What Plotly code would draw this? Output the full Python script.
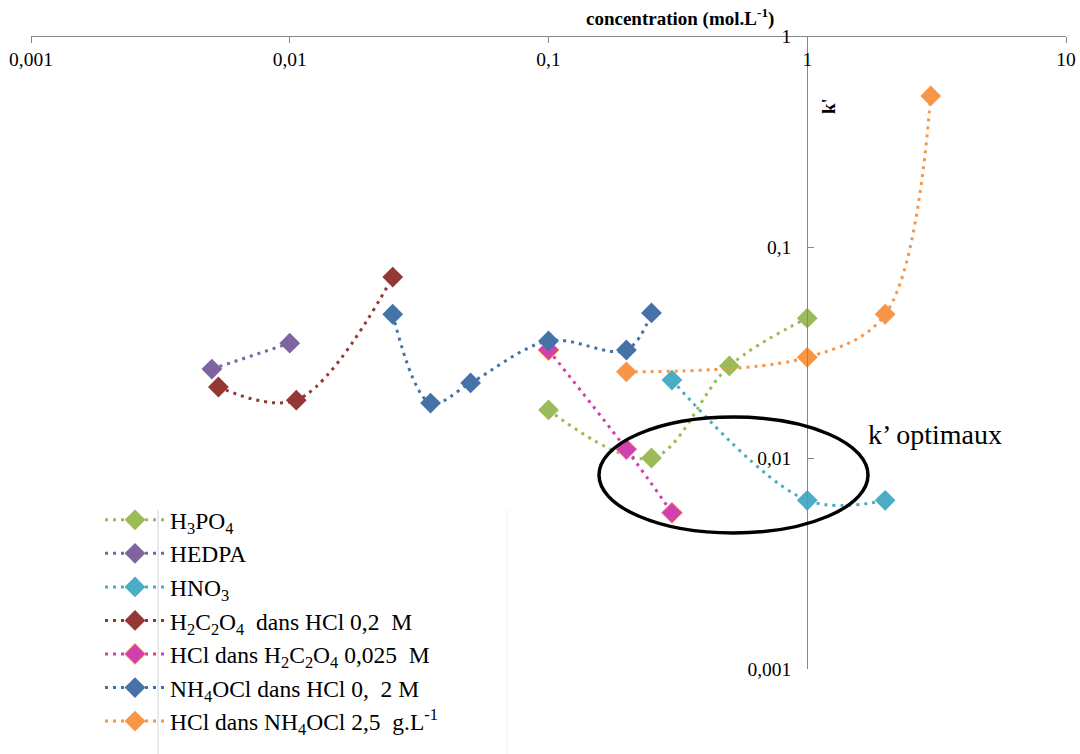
import plotly.graph_objects as go

# ---------------- data ----------------
series_names = [
    "H<sub>3</sub>PO<sub>4</sub>",
    "HEDPA",
    "HNO<sub>3</sub>",
    "H<sub>2</sub>C<sub>2</sub>O<sub>4</sub>  dans HCl 0,2  M",
    "HCl dans H<sub>2</sub>C<sub>2</sub>O<sub>4</sub> 0,025  M",
    "NH<sub>4</sub>OCl dans HCl 0,  2 M",
    "HCl dans NH<sub>4</sub>OCl 2,5  g.L<sup>-1</sup>",
]
colors = ["#9BBB59", "#8064A2", "#4BACC6", "#953735", "#D23FAE", "#4572A7", "#F79646"]

h3po4_x = [0.1, 0.25, 0.5, 1.0]
h3po4_y = [0.0169, 0.0100, 0.0273, 0.046]

hedpa_x = [0.005, 0.01]
hedpa_y = [0.0264, 0.035]

hno3_x = [0.3, 1.0, 2.0]
hno3_y = [0.0234, 0.0063, 0.0063]

h2c2o4_x = [0.0053, 0.0106, 0.025]
h2c2o4_y = [0.0217, 0.0188, 0.072]

hcl_ox_x = [0.1, 0.2, 0.3]
hcl_ox_y = [0.0325, 0.011, 0.0055]

nh4ocl_x = [0.025, 0.035, 0.05, 0.1, 0.2, 0.25]
nh4ocl_y = [0.048, 0.0182, 0.0227, 0.0359, 0.0325, 0.0487]

hcl_nh_x = [0.2, 1.0, 2.0, 3.0]
hcl_nh_y = [0.0256, 0.030, 0.048, 0.52]

x_tickvals = [0.001, 0.01, 0.1, 1, 10]
x_ticktext = ["0,001", "0,01", "0,1", "1", "10"]
y_tickvals = [0.001, 0.01, 0.1, 1]
y_ticktext = ["0,001", "0,01", "0,1", "1"]

xs = [h3po4_x, hedpa_x, hno3_x, h2c2o4_x, hcl_ox_x, nh4ocl_x, hcl_nh_x]
ys = [h3po4_y, hedpa_y, hno3_y, h2c2o4_y, hcl_ox_y, nh4ocl_y, hcl_nh_y]

# ---------------- layout geometry ----------------
W, H = 1080, 754
ML, MR, MT, MB = 31, 14, 36, 85
PW, PH = W - ML - MR, H - MT - MB
x_range = [-3, 1]
y_range = [-3, 0]


def px(x):
    return (x - ML) / PW


def py(y):
    return (H - MB - y) / PH


SERIF = "Liberation Serif"

fig = go.Figure()
for i, (name, c, xv, yv) in enumerate(zip(series_names, colors, xs, ys)):
    mline = dict(width=1, color="#F79646") if i == 4 else dict(width=0)
    fig.add_trace(go.Scatter(
        x=xv, y=yv, name=name, mode="lines+markers",
        line=dict(color=c, width=3, dash="3px,5px", shape="spline", smoothing=1.0),
        marker=dict(symbol="diamond", size=16, color=c, line=mline),
        legendgroup=f"g{i}",
    ))

yaxis_pos = (0 - x_range[0]) / (x_range[1] - x_range[0])

fig.update_layout(
    width=W, height=H,
    margin=dict(l=ML, r=MR, t=MT, b=MB, autoexpand=False),
    paper_bgcolor="white", plot_bgcolor="white",
    font=dict(family=SERIF, size=19, color="#000000"),
    showlegend=True,
    legend=dict(
        x=px(100), y=py(498), xanchor="left", yanchor="top",
        bgcolor="rgba(0,0,0,0)", font=dict(family=SERIF, size=23.5, color="#000"),
        tracegroupgap=0, itemwidth=60,
    ),
    xaxis=dict(
        type="log", range=x_range, side="bottom", anchor="free", position=1,
        tickvals=x_tickvals, ticktext=x_ticktext,
        ticks="outside", ticklen=6, tickcolor="#868686",
        ticklabelstandoff=0, ticklabeloverflow="allow",
        showline=True, linecolor="#868686", linewidth=1,
        showgrid=False, zeroline=False,
        tickfont=dict(family=SERIF, size=19.5, color="#000"),
    ),
    yaxis=dict(
        type="log", range=y_range, anchor="free", position=yaxis_pos, side="left",
        tickvals=y_tickvals, ticktext=y_ticktext,
        ticks="inside", ticklen=6, tickcolor="#868686",
        ticklabelstandoff=12, ticklabeloverflow="allow",
        showline=True, linecolor="#868686", linewidth=1,
        showgrid=False, zeroline=False,
        tickfont=dict(family=SERIF, size=19.5, color="#000"),
    ),
)

# axis titles & annotation text
fig.add_annotation(text="<b>concentration (mol.L<sup>-1</sup>)</b>", xref="paper", yref="paper",
                   x=px(680), y=py(18), showarrow=False, xanchor="center", yanchor="middle",
                   font=dict(family=SERIF, size=19, color="#000"))
fig.add_annotation(text="<b>k'</b>", xref="paper", yref="paper", textangle=-90,
                   x=px(829), y=py(106), showarrow=False, xanchor="center", yanchor="middle",
                   font=dict(family=SERIF, size=19, color="#000"))
fig.add_annotation(text="k’ optimaux", xref="paper", yref="paper",
                   x=px(866), y=py(434), showarrow=False, xanchor="left", yanchor="middle",
                   font=dict(family=SERIF, size=28, color="#000"))

# ellipse
fig.add_shape(type="circle", xref="paper", yref="paper",
              x0=px(599), x1=px(868), y0=py(533), y1=py(417),
              line=dict(color="#000", width=3.5))

# faint legend box lines
fig.add_shape(type="line", xref="paper", yref="paper",
              x0=px(158), x1=px(158), y0=py(510), y1=py(754),
              line=dict(color="#D4D4D4", width=1))
fig.add_shape(type="line", xref="paper", yref="paper",
              x0=px(507), x1=px(507), y0=py(510), y1=py(754),
              line=dict(color="#EDEDED", width=1))

fig.write_html("out.html", post_script="document.body.style.margin='0px';",
               config={"displayModeBar": False})
